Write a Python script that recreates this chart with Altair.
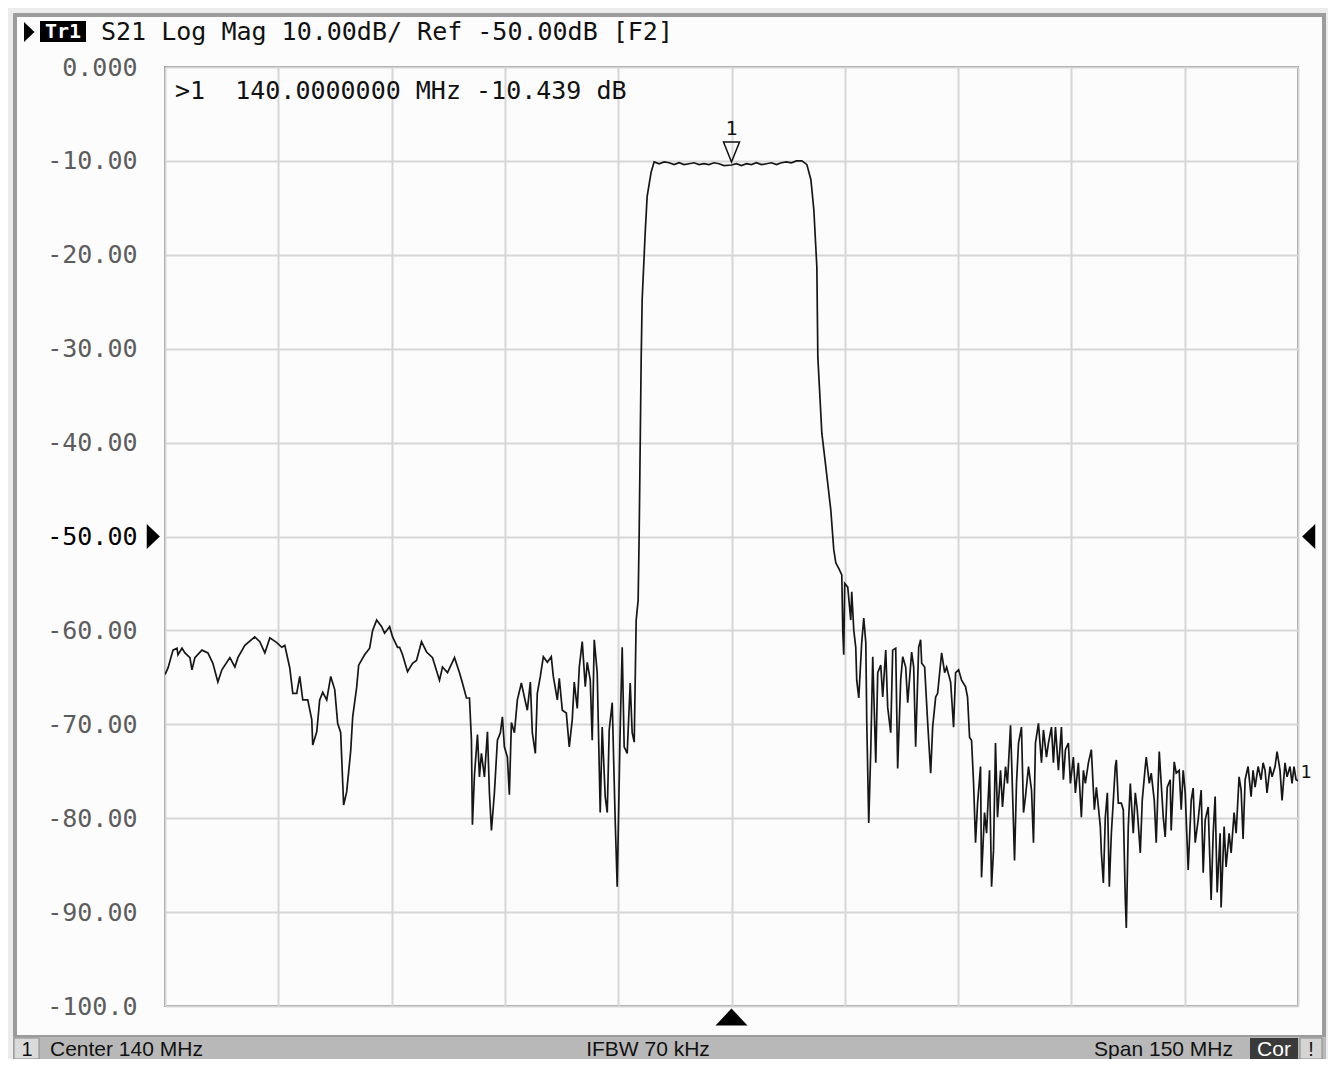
import altair as alt
import pandas as pd

# ---------------- data (MHz, dB) ----------------
lower_stopband = [
    (65.00, -64.7), (65.40, -64.0), (66.06, -62.1), (66.59, -61.9), (66.72, -62.6), (67.25, -61.9),
    (67.64, -62.4), (68.30, -62.9), (68.57, -64.2), (68.96, -62.9), (69.89, -62.1), (70.68, -62.4),
    (71.34, -63.5), (72.00, -65.5), (72.53, -64.2), (73.59, -62.9), (74.25, -63.9), (74.65, -62.9),
    (75.57, -61.6), (76.89, -60.7), (77.55, -61.2), (78.22, -62.4), (78.88, -60.8), (79.80, -61.3),
    (80.46, -61.8), (80.86, -61.6), (81.52, -64.0), (81.92, -66.7), (82.44, -66.7), (82.84, -64.9),
    (83.24, -67.4), (83.90, -67.4), (84.43, -69.5), (84.56, -72.2), (85.09, -70.8), (85.48, -67.4),
    (85.88, -66.6), (86.41, -67.4), (86.94, -64.9), (87.47, -66.3), (87.86, -69.9), (88.26, -70.9),
    (88.52, -76.1), (88.65, -78.6), (89.05, -77.2), (89.58, -72.9), (89.85, -69.2), (90.37, -66.1),
    (90.64, -63.7), (91.43, -62.6), (92.09, -61.9), (92.49, -60.0), (93.02, -58.9), (93.68, -59.6),
    (94.07, -60.3), (94.74, -59.6), (95.13, -60.7), (95.79, -61.8), (96.06, -61.8), (96.45, -62.6),
    (97.11, -64.4), (97.77, -63.5), (98.30, -63.2), (98.96, -61.2), (99.63, -62.3), (100.42, -62.9),
    (101.34, -65.3), (101.74, -63.9), (102.40, -64.5), (103.33, -62.9), (103.99, -64.5), (104.38, -65.6),
    (104.91, -67.2), (105.31, -67.2), (105.57, -71.7), (105.70, -80.7), (105.97, -75.4), (106.37, -71.1),
    (106.63, -75.6), (106.89, -73.1), (107.29, -75.6), (107.69, -70.8), (107.95, -77.3), (108.22, -81.3),
    (108.61, -77.3), (109.01, -71.7), (109.40, -70.9), (109.67, -69.2), (109.93, -72.4), (110.33, -73.5),
    (110.59, -77.5), (110.86, -69.8), (111.26, -70.9), (111.65, -67.4), (112.18, -65.6), (112.58, -67.1),
    (112.97, -68.5), (113.37, -65.5), (113.63, -70.9), (114.03, -73.1), (114.29, -66.7), (114.69, -64.9),
    (115.09, -62.8), (115.62, -63.4), (116.14, -62.8), (116.41, -64.9), (116.94, -67.4), (117.20, -65.1),
    (117.60, -68.5), (118.13, -68.8), (118.52, -72.4), (118.92, -69.5), (119.18, -65.5), (119.58, -68.3),
    (119.85, -63.9), (120.24, -61.2), (120.64, -66.0), (120.90, -63.4), (121.30, -65.3), (121.56, -71.7),
    (121.83, -61.0), (122.22, -64.5), (122.62, -79.4), (122.88, -70.3), (123.28, -77.7), (123.55, -79.4),
    (123.81, -70.6), (124.21, -67.7), (124.60, -80.2), (124.87, -87.3), (125.26, -70.6), (125.53, -61.8),
    (125.79, -72.4), (126.19, -73.1), (126.59, -65.6), (126.85, -70.9), (127.12, -71.9),
]

passband = [
    (127.38, -58.9), (127.64, -56.8), (127.78, -49.5), (128.04, -31.2), (128.17, -24.8), (128.57, -17.7),
    (128.83, -13.8), (129.36, -11.2), (129.76, -10.1), (130.42, -10.3), (131.08, -10.1), (131.74, -10.2),
    (132.40, -10.4), (133.06, -10.2), (133.72, -10.4), (134.38, -10.3), (135.04, -10.2), (135.70, -10.4),
    (136.36, -10.3), (137.02, -10.4), (137.68, -10.2), (138.35, -10.3), (139.01, -10.5), (140.00, -10.44),
    (140.66, -10.3), (141.32, -10.5), (141.98, -10.3), (142.64, -10.4), (143.30, -10.2), (143.97, -10.4),
    (144.63, -10.3), (145.29, -10.2), (145.95, -10.4), (146.61, -10.2), (147.27, -10.1), (147.93, -10.2),
    (148.59, -10.0), (149.32, -10.0), (149.98, -10.4), (150.51, -12.0), (150.90, -15.2), (151.30, -21.3),
    (151.43, -30.9), (151.96, -39.0), (152.49, -42.6), (153.15, -47.2), (153.54, -51.4), (153.81, -52.8),
    (154.07, -53.2), (154.20, -53.4), (154.60, -54.1),
]

upper_stopband = [
    (154.73, -60.0), (154.86, -62.6), (154.99, -55.0), (155.39, -55.4), (155.79, -58.9), (155.92, -55.9),
    (156.19, -60.0), (156.45, -61.8), (156.58, -65.3), (156.85, -67.2), (157.24, -61.3), (157.51, -58.7),
    (157.78, -61.3), (157.91, -69.9), (158.17, -80.5), (158.44, -72.7), (158.70, -62.8), (159.10, -74.1),
    (159.36, -64.5), (159.76, -63.7), (160.02, -67.1), (160.42, -62.1), (160.68, -68.2), (161.08, -70.9),
    (161.34, -62.1), (161.74, -61.9), (162.00, -74.7), (162.40, -65.3), (162.67, -62.8), (163.06, -63.9),
    (163.33, -67.7), (163.85, -62.3), (164.12, -63.9), (164.38, -72.4), (164.78, -61.8), (165.04, -61.0),
    (165.18, -63.5), (165.57, -63.9), (165.97, -69.8), (166.37, -75.2), (166.63, -70.3), (167.03, -67.1),
    (167.29, -66.7), (167.82, -62.4), (168.22, -64.5), (168.48, -63.9), (169.01, -65.5), (169.40, -70.3),
    (169.67, -64.5), (170.07, -64.2), (170.46, -65.3), (170.99, -66.0), (171.25, -67.1), (171.52, -71.4),
    (171.78, -71.7), (172.05, -76.3), (172.31, -82.6), (172.58, -78.4), (172.97, -74.5), (173.10, -86.3),
    (173.50, -79.4), (173.77, -81.6), (174.16, -74.9), (174.43, -87.3), (174.69, -83.4), (174.95, -72.0),
    (175.22, -79.9), (175.62, -74.9), (175.88, -78.8), (176.28, -74.5), (176.54, -76.3), (176.94, -70.1),
    (177.07, -73.5), (177.47, -84.5), (177.73, -76.3), (178.00, -72.0), (178.39, -70.3), (178.66, -79.4),
    (178.92, -77.7), (179.32, -74.5), (179.72, -77.0), (179.98, -82.6), (180.24, -72.0), (180.64, -69.9),
    (181.04, -74.1), (181.30, -70.6), (181.70, -73.5), (181.96, -72.0), (182.36, -70.3), (182.62, -74.1),
    (182.89, -70.3), (183.28, -74.9), (183.68, -70.3), (183.94, -75.9), (184.21, -72.7), (184.60, -72.0),
    (184.87, -76.3), (185.26, -73.5), (185.53, -77.3), (185.92, -74.1), (186.32, -79.9), (186.59, -74.9),
    (186.85, -76.3), (187.25, -74.1), (187.64, -72.7), (188.04, -79.1), (188.31, -76.7), (188.57, -78.8),
    (188.83, -80.9), (188.97, -83.7), (189.23, -86.9), (189.49, -79.9), (189.76, -77.3), (190.02, -87.3),
    (190.29, -81.6), (190.55, -78.1), (190.81, -74.5), (190.95, -73.8), (191.21, -78.4), (191.61, -78.4),
    (191.87, -79.1), (192.14, -88.7), (192.27, -91.7), (192.53, -80.9), (192.80, -76.3), (192.93, -78.1),
    (193.19, -81.6), (193.46, -77.3), (193.72, -79.1), (194.12, -83.7), (194.38, -78.1), (194.78, -74.5),
    (194.91, -73.5), (195.31, -76.3), (195.57, -75.2), (195.97, -78.1), (196.23, -82.6), (196.63, -72.9),
    (196.89, -76.3), (197.16, -79.9), (197.42, -82.0), (197.69, -76.7), (198.08, -75.9), (198.21, -81.3),
    (198.61, -74.0), (198.88, -75.2), (199.27, -74.9), (199.54, -79.1), (199.80, -74.9), (200.07, -77.3),
    (200.46, -85.5), (200.86, -78.1), (201.12, -76.8), (201.39, -82.6), (201.78, -80.2), (202.18, -77.0),
    (202.45, -85.8), (202.71, -80.2), (203.11, -78.8), (203.50, -88.7), (203.77, -81.6), (204.03, -77.7),
    (204.30, -87.9), (204.69, -81.6), (204.82, -89.5), (205.22, -80.9), (205.48, -85.2), (205.88, -81.6),
    (206.15, -83.7), (206.54, -79.4), (206.81, -81.6), (207.20, -75.6), (207.47, -77.0), (207.73, -82.2),
    (208.00, -75.9), (208.39, -74.5), (208.79, -77.7), (209.05, -74.9), (209.32, -76.7), (209.72, -74.5),
    (210.11, -75.9), (210.38, -74.1), (210.64, -74.9), (210.90, -77.3), (211.30, -74.5), (211.57, -75.6),
    (211.96, -74.5), (212.23, -72.9), (212.62, -74.9), (212.89, -78.1), (213.28, -74.1), (213.55, -75.6),
    (213.94, -74.5), (214.21, -76.3), (214.47, -74.5), (214.74, -75.9), (215.00, -76.0),
]

x_grid = [65, 80, 95, 110, 125, 140, 155, 170, 185, 200, 215]
y_ticks = [0, -10, -20, -30, -40, -50, -60, -70, -80, -90, -100]
y_labels = ["0.000", "-10.00", "-20.00", "-30.00", "-40.00", "-50.00",
            "-60.00", "-70.00", "-80.00", "-90.00", "-100.0"]

title_text = "S21 Log Mag 10.00dB/ Ref -50.00dB [F2]"
readout_text = ">1\u00a0\u00a0140.0000000 MHz -10.439 dB"
marker_freq = 140.0
ref_level = -50
status_left = "Center 140 MHz"
status_mid = "IFBW 70 kHz"
status_right = "Span 150 MHz"

# ---------------- build ----------------
trace = lower_stopband + passband + upper_stopband
df = pd.DataFrame(trace, columns=["freq", "db"])

W, H = 1133, 939
MONO = "DejaVu Sans Mono"
SANS = "Liberation Sans"

label_expr = "''"
for v, l in reversed(list(zip(y_ticks, y_labels))):
    label_expr = f"datum.value == {v} ? '{l}' : ({label_expr})"

xscale = alt.Scale(domain=[65, 215], nice=False, zero=False)
yscale = alt.Scale(domain=[-100, 0], nice=False, zero=False)

one = pd.DataFrame({"k": [0]})


def rect(x, x2, y, y2, **kw):
    return alt.Chart(one).mark_rect(**kw).encode(
        x=alt.value(x), x2=alt.value(x2), y=alt.value(y), y2=alt.value(y2))


def text(t, x, y, **kw):
    return alt.Chart(one).mark_text(text=t, **kw).encode(x=alt.value(x), y=alt.value(y))


line = alt.Chart(df).mark_line(color="#161616", strokeWidth=1.7, clip=True).encode(
    x=alt.X("freq:Q", scale=xscale, title=None,
            axis=alt.Axis(values=x_grid, labels=False, ticks=False, domain=False,
                          grid=True, gridColor="#d6d6d6", gridWidth=2)),
    y=alt.Y("db:Q", scale=yscale, title=None,
            axis=alt.Axis(values=y_ticks, labelExpr=label_expr, ticks=False, domain=False,
                          grid=True, gridColor="#d6d6d6", gridWidth=2,
                          labelFont=MONO, labelFontSize=25, labelPadding=28,
                          labelColor={"condition": {"test": "datum.value == -50", "value": "#000000"},
                                      "value": "#5c5c5c"})),
)

# window chrome
strip_top = rect(-157, 1163, -59, -53, color="#ececec")
strip_left = rect(-157, -151, -59, 992, color="#ececec")
strip_right = rect(1159, 1163, -59, 992, color="#ececec")
frame = rect(-150, 1159, -52, 970, fillOpacity=0, stroke="#9c9c9c", strokeWidth=4)
status_bar = rect(-152, 1161, 970, 992, color="#b8b8b8")
box_1 = rect(-151, -126, 971, 992, color="#dadada", stroke="#8a8a8a", strokeWidth=1)
box_cor = rect(1085, 1133, 971, 992, color="#3a3a3a")
box_bang = rect(1135, 1157, 971, 992, color="#d4d4d4", stroke="#8a8a8a", strokeWidth=1)

st_1 = text("1", -138, 983, font=SANS, fontSize=20, color="#111", align="center", baseline="middle")
st_left = text(status_left, -115, 983, font=SANS, fontSize=21, color="#111", align="left", baseline="middle")
st_mid = text(status_mid, 483, 983, font=SANS, fontSize=21, color="#111", align="center", baseline="middle")
st_right = text(status_right, 1068, 983, font=SANS, fontSize=21, color="#111", align="right", baseline="middle")
st_cor = text("Cor", 1109, 983, font=SANS, fontSize=21, color="#ffffff", align="center", baseline="middle")
st_bang = text("!", 1146, 983, font=SANS, fontSize=20, color="#111", align="center", baseline="middle")

# title line
tri_title = alt.Chart(one).mark_point(shape="M-0.5,-1L0.55,0L-0.5,1Z", filled=True, color="#000",
                                      size=400, opacity=1).encode(x=alt.value(-136), y=alt.value(-35))
tr_box = rect(-125, -79, -46, -25, color="#000")
tr_txt = text("Tr1", -102, -35, font=MONO, fontSize=20, fontWeight="bold", color="#fff",
              align="center", baseline="middle")
title = text(title_text, -64, -35, font=MONO, fontSize=25, color="#111", align="left", baseline="middle")

# marker readout
readout = text(readout_text, 10, 24, font=MONO, fontSize=25, color="#111", align="left", baseline="middle")

# reference level arrows and stimulus arrow
refdf = pd.DataFrame({"y": [ref_level]})
ref_left = alt.Chart(refdf).mark_point(shape="M-0.5,-1L0.55,0L-0.5,1Z", filled=True, color="#000",
                                       size=625, opacity=1).encode(
    x=alt.value(-12), y=alt.Y("y:Q", scale=yscale, title=None))
ref_right = alt.Chart(refdf).mark_point(shape="M0.5,-1L-0.55,0L0.5,1Z", filled=True, color="#000",
                                        size=625, opacity=1).encode(
    x=alt.value(W + 11), y=alt.Y("y:Q", scale=yscale, title=None))
stimdf = pd.DataFrame({"x": [marker_freq]})
stim = alt.Chart(stimdf).mark_point(shape="M-1,0.53L1,0.53L0,-0.53Z", filled=True, color="#000",
                                    size=1024, opacity=1).encode(
    x=alt.X("x:Q", scale=xscale, title=None), y=alt.value(950))

# marker 1 symbol on trace
mkdf = pd.DataFrame({"x": [marker_freq], "ysym": [-9.05], "ytxt": [-6.6]})
mk_sym = alt.Chart(mkdf).mark_point(shape="M-0.8,-1L0.8,-1L0,1Z", filled=False, color="#111",
                                    strokeWidth=1.5, size=400, opacity=1).encode(
    x=alt.X("x:Q", scale=xscale, title=None), y=alt.Y("ysym:Q", scale=yscale, title=None))
mk_txt = alt.Chart(mkdf).mark_text(text="1", font=MONO, fontSize=20, color="#111",
                                   baseline="middle", align="center").encode(
    x=alt.X("x:Q", scale=xscale, title=None), y=alt.Y("ytxt:Q", scale=yscale, title=None))

end_lbl = text("1", W + 8, 773 - 67, font=MONO, fontSize=18, color="#111", align="center", baseline="middle")

chart = alt.layer(
    strip_top, strip_left, strip_right, frame, status_bar, box_1, box_cor, box_bang,
    line,
    st_1, st_left, st_mid, st_right, st_cor, st_bang,
    tri_title, tr_box, tr_txt, title, readout,
    ref_left, ref_right, stim, mk_sym, mk_txt, end_lbl,
).properties(
    width=W, height=H,
    autosize=alt.AutoSizeParams(type="none"),
    padding={"left": 157, "top": 59, "right": 30, "bottom": 53},
).configure(
    background="#fcfcfc",
).configure_view(
    stroke="#8e8e8e", strokeWidth=2,
)

chart.save("out.html", embed_options={"renderer": "svg", "actions": False})
